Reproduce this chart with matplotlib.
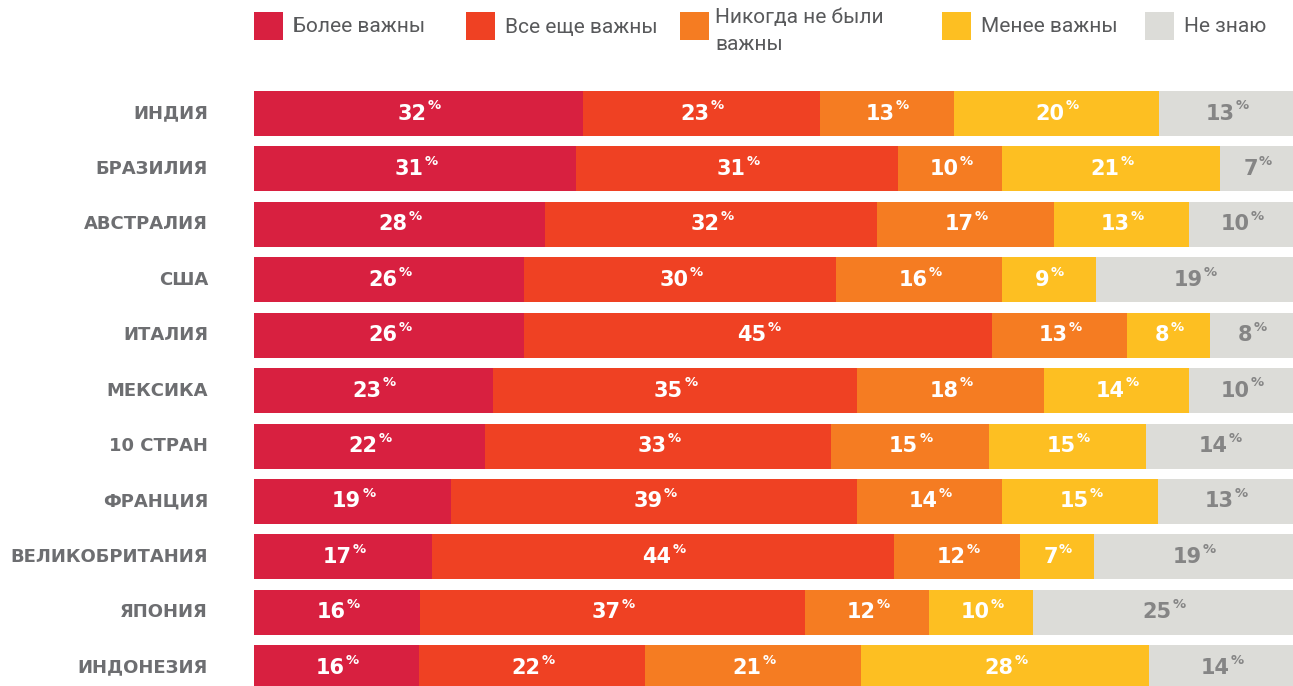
import numpy as np
import matplotlib
matplotlib.use("Agg")
import matplotlib.pyplot as plt
from matplotlib.patches import Rectangle

countries = ["ИНДИЯ", "БРАЗИЛИЯ", "АВСТРАЛИЯ", "США", "ИТАЛИЯ", "МЕКСИКА",
             "10 СТРАН", "ФРАНЦИЯ", "ВЕЛИКОБРИТАНИЯ", "ЯПОНИЯ", "ИНДОНЕЗИЯ"]
categories = ["Более важны", "Все еще важны", "Никогда не были\nважны",
              "Менее важны", "Не знаю"]
more_important = [32, 31, 28, 26, 26, 23, 22, 19, 17, 16, 16]
still_important = [23, 31, 32, 30, 45, 35, 33, 39, 44, 37, 22]
never_important = [13, 10, 17, 16, 13, 18, 15, 14, 12, 12, 21]
less_important = [20, 21, 13, 9, 8, 14, 15, 15, 7, 10, 28]
dont_know = [13, 7, 10, 19, 8, 10, 14, 13, 19, 25, 14]

colors = ["#D82040", "#EF4123", "#F57C22", "#FDBF22", "#DCDCD8"]
label_colors = ["white", "white", "white", "white", "#858585"]

W, H = 1293, 686
fig = plt.figure(figsize=(W / 100, H / 100), dpi=100)

# axes placed in pixels: bars from x=254 to right edge
top_px = 85.8
ax = fig.add_axes([254 / W, 0, 1 - 254 / W, 1 - top_px / H])
ax.set_xlim(0, 1)
ax.set_ylim(10.33, -0.5)
ax.axis("off")

data = np.array([more_important, still_important, never_important,
                 less_important, dont_know], dtype=float)
totals = data.sum(axis=0)
y = np.arange(len(countries))

left = np.zeros(len(countries))
for k in range(len(data)):
    widths = data[k] / totals
    ax.barh(y, widths, left=left, height=0.812, color=colors[k], linewidth=0)
    for i in range(len(countries)):
        cx = left[i] + widths[i] / 2
        t = ax.text(cx - 0.006, y[i] - 0.0, f"{int(data[k][i])}",
                    ha="center", va="center", color=label_colors[k],
                    fontsize=15, fontweight="bold", family="DejaVu Sans")
        ax.annotate("%", xy=(1, 1), xycoords=t, xytext=(0.8, 3),
                    textcoords="offset points", ha="left", va="top",
                    color=label_colors[k], fontsize=9.5, fontweight="bold",
                    family="DejaVu Sans")
    left += widths

# country labels
for i, name in enumerate(countries):
    ax.text(-46 / 1039, y[i], name, ha="right", va="center",
            fontsize=13, fontweight="bold", color="#6D6E71",
            family="DejaVu Sans", clip_on=False)

# legend drawn by hand in pixel positions
sq_x = [254, 466, 680, 942, 1145]
for x0, lab, c in zip(sq_x, categories, colors):
    fig.patches.append(Rectangle((x0 / W, 1 - 40 / H), 29 / W, 28 / H,
                                 transform=fig.transFigure, color=c,
                                 linewidth=0))
    if "\n" in lab:
        l1, l2 = lab.split("\n")
        fig.text((x0 + 35) / W, 1 - 17 / H, l1, ha="left", va="center",
                 fontsize=15, color="#58595B", family="Roboto")
        fig.text((x0 + 35) / W, 1 - 45 / H, l2, ha="left", va="center",
                 fontsize=15, color="#58595B", family="Roboto")
    else:
        fig.text((x0 + 39) / W, 1 - 27 / H, lab, ha="left", va="center",
                 fontsize=15, color="#58595B", family="Roboto")

fig.savefig("out.png", dpi=100)
